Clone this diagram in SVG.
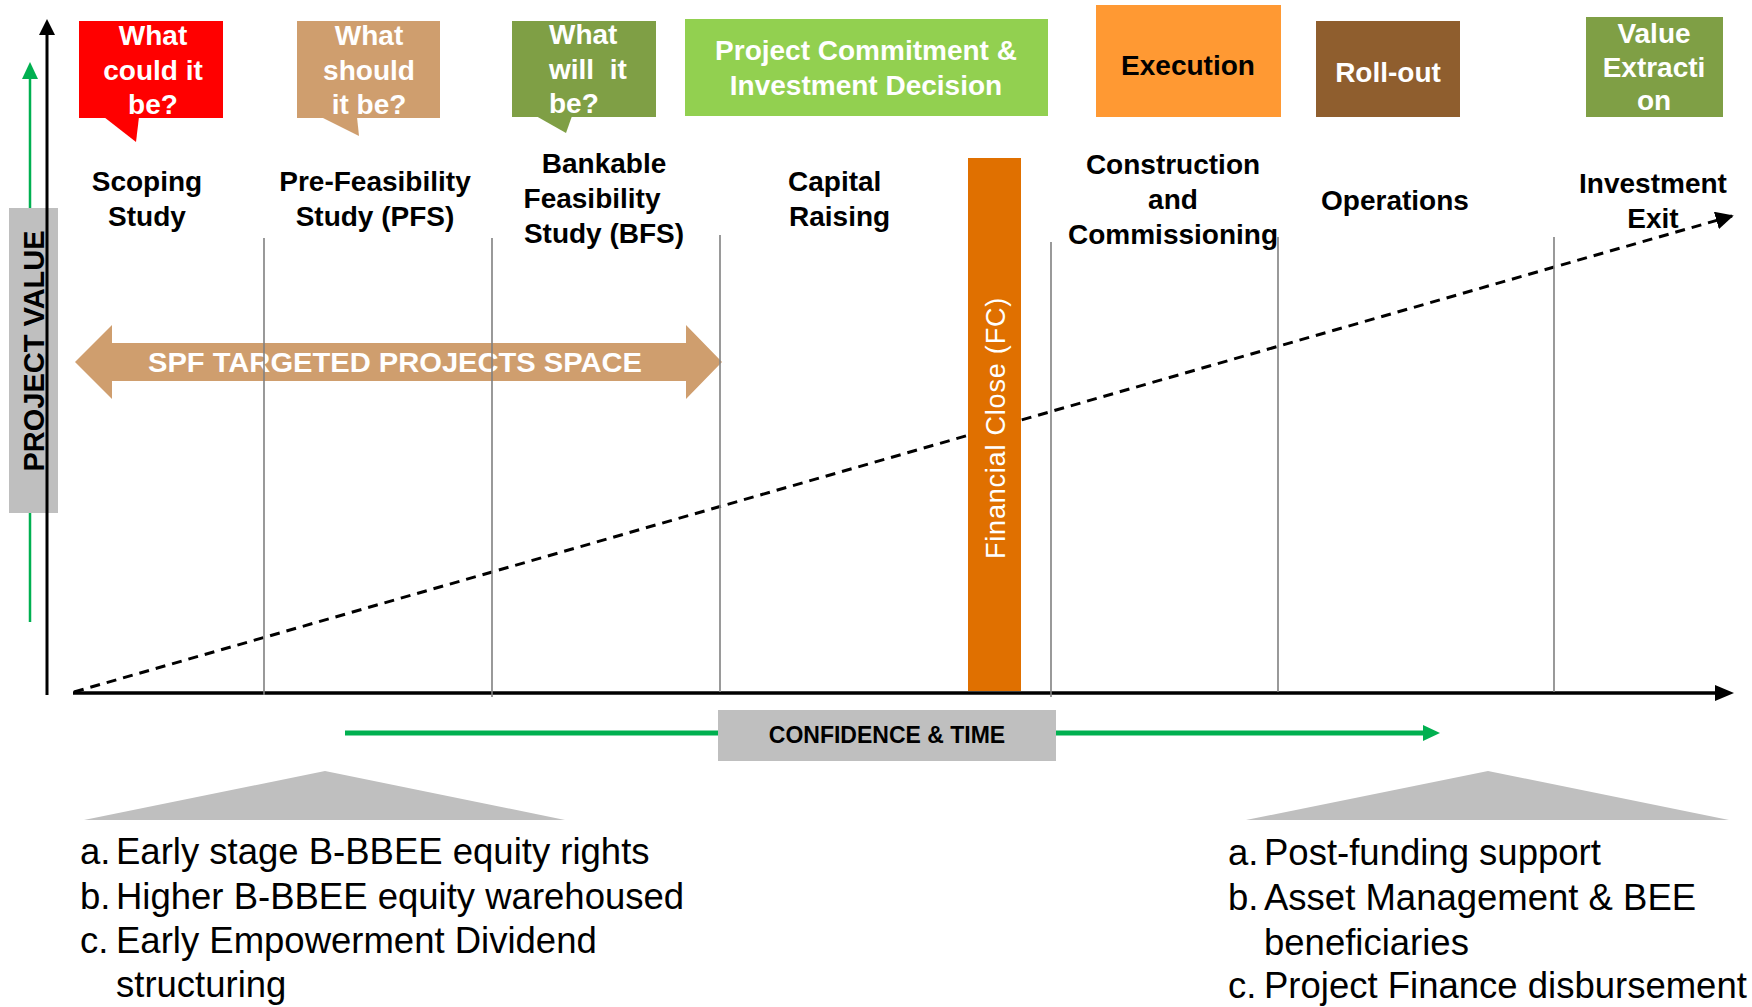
<svg xmlns="http://www.w3.org/2000/svg" width="1752" height="1007" viewBox="0 0 1752 1007">
<style>
.b{font-family:"Liberation Sans",Arial,sans-serif;font-weight:bold;font-size:28px}
.w{fill:#FFFFFF}
.k{fill:#000000}
.m{text-anchor:middle}
.lst{font-family:"Liberation Sans",Arial,sans-serif;font-size:36.5px;fill:#000000}
.vl{stroke:#808080;stroke-width:1.6;fill:none}
</style>
<defs>
<marker id="dashHead" viewBox="0 0 10 10" refX="9" refY="5" markerWidth="6" markerHeight="6" orient="auto" markerUnits="strokeWidth">
<path d="M0,0 L10,5 L0,10 z" fill="#000"/>
</marker>
</defs>
<rect width="1752" height="1007" fill="#FFFFFF"/>

<g id="axes">
<line x1="30" y1="76" x2="30" y2="622" stroke="#00B050" stroke-width="2.5"/>
<polygon points="30,62 22,79 38,79" fill="#00B050"/>
<line x1="47" y1="32" x2="47" y2="695" stroke="#000" stroke-width="3"/>
<polygon points="47,19 39,35 55,35" fill="#000"/>
<line x1="73" y1="693" x2="1718" y2="693" stroke="#000" stroke-width="3.5"/>
<polygon points="1734,693 1715,685 1715,701" fill="#000"/>
</g>

<g id="project-value">
<rect x="9" y="208" width="49" height="305" fill="#BFBFBF"/>
<line x1="47" y1="208" x2="47" y2="513" stroke="#000" stroke-width="3"/>
<text class="b k m" transform="translate(44,351) rotate(-90)" style="font-size:29px">PROJECT VALUE</text>
</g>

<g id="spf-arrow">
<polygon points="75,362 112,325 112,343 686,343 686,325 722,362 686,399 686,381 112,381 112,399" fill="#CF9E6E"/>
<text class="b w m" x="395" y="372" textLength="494" lengthAdjust="spacingAndGlyphs">SPF TARGETED PROJECTS SPACE</text>
</g>

<g id="connectors">
<line x1="74" y1="692" x2="1732" y2="216" stroke="#000" stroke-width="3" stroke-dasharray="10 7" marker-end="url(#dashHead)"/>
</g>

<g id="phase-lines">
<line class="vl" x1="264" y1="238" x2="264" y2="695"/>
<line class="vl" x1="492" y1="238" x2="492" y2="697"/>
<line class="vl" x1="720" y1="235" x2="720" y2="692"/>
<line class="vl" x1="1051" y1="242" x2="1051" y2="697"/>
<line class="vl" x1="1278" y1="237" x2="1278" y2="692"/>
<line class="vl" x1="1554" y1="237" x2="1554" y2="692"/>
</g>

<g id="financial-close">
<rect x="968" y="158" width="53" height="533" fill="#E07000"/>
<text transform="translate(1005,428) rotate(-90)" text-anchor="middle" style="font-family:'Liberation Sans',Arial,sans-serif;font-size:27px;letter-spacing:0.8px" fill="#FFFFFF">Financial Close (FC)</text>
</g>

<g id="callout-could">
<rect x="79" y="21" width="144" height="97" fill="#FF0000"/>
<polygon points="104,117 136,142 139,117" fill="#FF0000"/>
<text class="b w m" x="153" y="45">What</text>
<text class="b w m" x="153" y="80">could it</text>
<text class="b w m" x="153" y="114">be?</text>
</g>

<g id="callout-should">
<rect x="297" y="21" width="143" height="97" fill="#CF9E6E"/>
<polygon points="321,117 359,136 357,117" fill="#CF9E6E"/>
<text class="b w m" x="369" y="45">What</text>
<text class="b w m" x="369" y="80">should</text>
<text class="b w m" x="369" y="114">it be?</text>
</g>

<g id="callout-will">
<rect x="512" y="21" width="144" height="96" fill="#7F9F45"/>
<polygon points="536,116 566,133 572,116" fill="#7F9F45"/>
<text class="b w" x="549" y="44">What</text>
<text class="b w" x="549" y="79" xml:space="preserve">will  it</text>
<text class="b w" x="549" y="113">be?</text>
</g>

<g id="box-commitment">
<rect x="685" y="19" width="363" height="97" fill="#92D050"/>
<text class="b w m" x="866" y="60">Project Commitment &amp;</text>
<text class="b w m" x="866" y="95">Investment Decision</text>
</g>

<g id="box-execution">
<rect x="1096" y="5" width="185" height="112" fill="#FF9933"/>
<text class="b k m" x="1188" y="75">Execution</text>
</g>

<g id="box-rollout">
<rect x="1316" y="21" width="144" height="96" fill="#8F5E2E"/>
<text class="b w m" x="1388" y="82">Roll-out</text>
</g>

<g id="box-value">
<rect x="1586" y="17" width="137" height="100" fill="#7F9F45"/>
<text class="b w m" x="1654" y="43">Value</text>
<text class="b w m" x="1654" y="77">Extracti</text>
<text class="b w m" x="1654" y="110">on</text>
</g>

<g id="label-scoping">
<text class="b k m" x="147" y="191">Scoping</text>
<text class="b k m" x="147" y="226">Study</text>
</g>
<g id="label-pfs">
<text class="b k m" x="375" y="191">Pre-Feasibility</text>
<text class="b k m" x="375" y="226">Study (PFS)</text>
</g>
<g id="label-bfs">
<text class="b k m" x="604" y="173">Bankable</text>
<text class="b k m" x="592" y="208">Feasibility</text>
<text class="b k m" x="604" y="243">Study (BFS)</text>
</g>
<g id="label-capital">
<text class="b k" x="788" y="191">Capital</text>
<text class="b k" x="789" y="226">Raising</text>
</g>
<g id="label-construction">
<text class="b k m" x="1173" y="174">Construction</text>
<text class="b k m" x="1173" y="209">and</text>
<text class="b k m" x="1173" y="244">Commissioning</text>
</g>
<g id="label-operations">
<text class="b k m" x="1395" y="210">Operations</text>
</g>
<g id="label-exit">
<text class="b k m" x="1653" y="193">Investment</text>
<text class="b k m" x="1653" y="228">Exit</text>
</g>

<g id="confidence-time">
<line x1="345" y1="733" x2="1424" y2="733" stroke="#00B050" stroke-width="5"/>
<polygon points="1440,733 1423,725 1423,741" fill="#00B050"/>
<rect x="718" y="710" width="338" height="51" fill="#BFBFBF"/>
<text class="b k m" x="887" y="743" style="font-size:23px">CONFIDENCE &amp; TIME</text>
</g>

<g id="tent-left">
<polygon points="325,771 565,820 84,820" fill="#BFBFBF"/>
</g>
<g id="tent-right">
<polygon points="1488,771 1729,820 1246,820" fill="#BFBFBF"/>
</g>

<g id="list-left">
<text class="lst" x="80" y="864">a.</text><text class="lst" x="116" y="864">Early stage B-BBEE equity rights</text>
<text class="lst" x="80" y="909">b.</text><text class="lst" x="116" y="909">Higher B-BBEE equity warehoused</text>
<text class="lst" x="80" y="953">c.</text><text class="lst" x="116" y="953">Early Empowerment Dividend</text>
<text class="lst" x="116" y="997">structuring</text>
</g>

<g id="list-right">
<text class="lst" x="1228" y="865">a.</text><text class="lst" x="1264" y="865">Post-funding support</text>
<text class="lst" x="1228" y="910">b.</text><text class="lst" x="1264" y="910">Asset Management &amp; BEE</text>
<text class="lst" x="1264" y="955">beneficiaries</text>
<text class="lst" x="1228" y="998">c.</text><text class="lst" x="1264" y="998">Project Finance disbursement</text>
</g>
</svg>
